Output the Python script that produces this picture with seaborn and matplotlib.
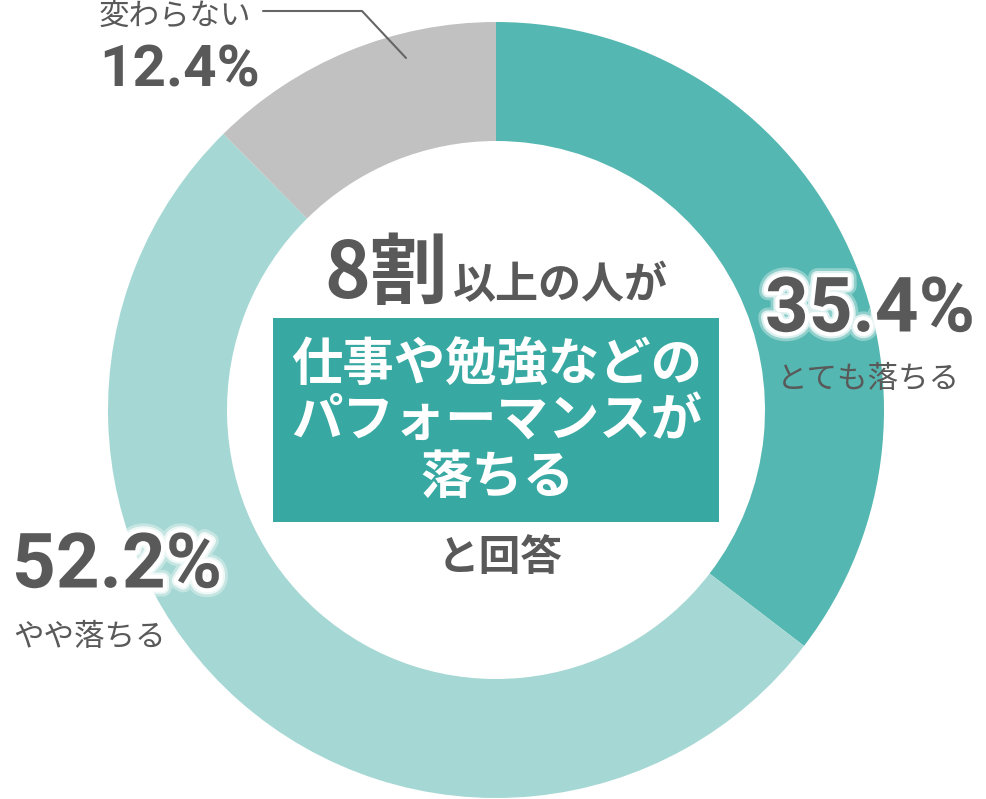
import matplotlib
matplotlib.use("Agg")
import matplotlib.pyplot as plt
import matplotlib.patheffects as pe
from matplotlib.patches import Rectangle
import seaborn as sns

labels = ["とても落ちる", "やや落ちる", "変わらない"]
values = [35.4, 52.2, 12.4]
colors = ["#55b7b1", "#a5d8d4", "#c1c1c1"]

sns.set_theme(style="white")
plt.rcParams["font.family"] = ["Noto Sans CJK JP", "DejaVu Sans"]

GRAY = "#595959"
NUM_FONT = ["Roboto", "DejaVu Sans"]
W, H = 987, 799
fig = plt.figure(figsize=(W / 100, H / 100), dpi=100)
ax = fig.add_axes([0, 0, 1, 1])

# y axis is flipped below, so counterclock in data == clockwise on screen
ax.pie(values, colors=colors, startangle=-90, counterclock=True,
       center=(496, 410), radius=388,
       wedgeprops=dict(width=119, linewidth=0))
ax.set_xlim(0, W)
ax.set_ylim(H, 0)
ax.set_aspect("auto")
ax.axis("off")

# soft white glow around the big numbers
glow = [pe.Stroke(linewidth=13, foreground="white", alpha=0.35),
        pe.Stroke(linewidth=9, foreground="white", alpha=0.7),
        pe.Stroke(linewidth=6, foreground="white"),
        pe.Normal()]

def pct(v):
    return f"{v:.1f}%"

# percentage labels
ax.text(870, 311, pct(values[0]), family=NUM_FONT, weight="bold",
        fontsize=55, color=GRAY, ha="center", va="center", path_effects=glow)
ax.text(868, 380, labels[0], fontsize=22, color=GRAY, ha="center", va="center")

ax.text(12, 567, pct(values[1]), family=NUM_FONT, weight="bold",
        fontsize=55, color=GRAY, ha="left", va="center", path_effects=glow)
ax.text(13, 638, labels[1], fontsize=22, color=GRAY, ha="left", va="center")

ax.text(180, 71, pct(values[2]), family=NUM_FONT, weight="bold",
        fontsize=42, color=GRAY, ha="center", va="center")
ax.text(175, 16, labels[2], fontsize=22, color=GRAY, ha="center", va="center")
ax.plot([263, 362, 406], [11, 11, 58], color="#666666", lw=1.5)

# center message
ax.text(448, 298, "8割", fontsize=56, weight="bold", color=GRAY,
        ha="right", va="baseline")
ax.text(453, 298, "以上の人が", fontsize=31, weight="bold", color=GRAY,
        ha="left", va="baseline")
ax.add_patch(Rectangle((273, 318), 446, 204, color="#38a9a2", lw=0))
for y, line in zip([365, 420, 477], ["仕事や勉強などの", "パフォーマンスが", "落ちる"]):
    ax.text(497, y, line, fontsize=37, weight="bold", color="white",
            ha="center", va="center")
ax.text(500, 558, "と回答", fontsize=30, weight="bold", color=GRAY,
        ha="center", va="center")

fig.savefig("out.png", dpi=100)
